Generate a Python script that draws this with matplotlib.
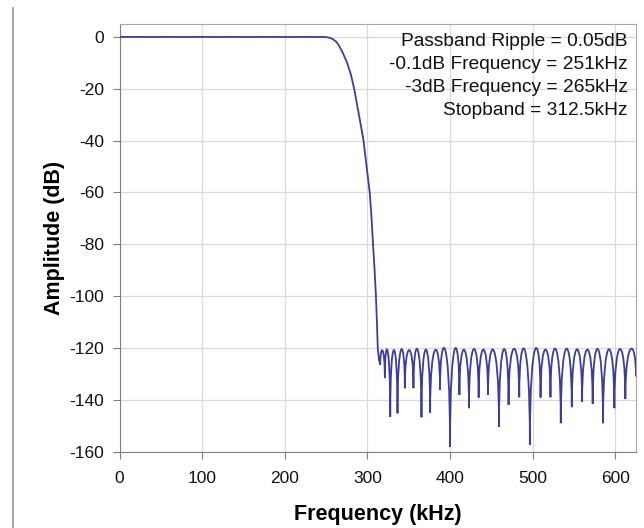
"""
Lowpass FIR filter magnitude response, redrawn from a datasheet plot
"""
import matplotlib
matplotlib.use('Agg')
import matplotlib.pyplot as plt
from matplotlib.path import Path
from matplotlib.patches import PathPatch
from matplotlib.lines import Line2D

# Passband (flat, tiny ripple)
passband_freq = [0, 20, 40, 60, 80, 100, 120, 140, 160, 180, 200, 220, 240, 248]
passband_db = [0.0, 0.02, -0.02, 0.02, -0.02, 0.02, -0.02, 0.02, -0.02, 0.02, -0.02, 0.02, -0.02, 0.0]

# Transition band
trans_freq = [251, 255, 258, 262, 265, 270, 275.5, 280, 284, 288, 292, 295.3,
              299, 302.8, 305, 306.8, 308.7, 310.3, 311.5, 312.5, 314.0]
trans_db = [-0.1, -0.4, -0.8, -1.8, -3.0, -6.0, -10.0, -14.5, -20.0, -27.0, -34.0, -40.0,
            -50.0, -60.0, -70.0, -80.0, -90.0, -100.0, -110.0, -120.0, -124.5]

# Stopband: null positions / depths, and the peak level of each lobe between them
null_freq = [315.5, 321.1, 327.6, 336.4, 345.3, 355.7, 365.4, 375.9, 387.9, 400.0,
             411.3, 422.9, 434.6, 445.9, 459.2, 470.8, 483.7, 496.6, 509.5, 521.5,
             534.0, 547.3, 559.8, 572.6, 585.1, 598.8, 612.1, 625.0]
null_db = [-126.5, -131.6, -146.5, -145.2, -135.5, -135.5, -146.7, -144.9, -136.1, -158.1,
           -138.1, -143.2, -139.1, -138.1, -150.3, -141.9, -139.0, -157.4, -139.1, -139.0,
           -149.0, -142.8, -140.8, -141.5, -149.0, -143.2, -139.7, -131.0]
lobe_peak_db = [-121.0, -121.0, -120.8, -120.6, -120.8, -120.5, -120.6, -120.8, -120.6,
                -120.5, -120.7, -120.4, -120.6, -120.8, -120.5, -120.3, -120.6, -120.4,
                -120.6, -120.4, -120.3, -120.5, -120.6, -120.4, -120.5, -120.4, -120.4]

x_ticks = [0, 100, 200, 300, 400, 500, 600]
y_ticks = [0, -20, -40, -60, -80, -100, -120, -140, -160]

notes = ["Passband Ripple = 0.05dB",
         "-0.1dB Frequency = 251kHz",
         "-3dB Frequency = 265kHz",
         "Stopband = 312.5kHz"]

LINE_COLOR = '#3d3d9c'
GRID_COLOR = '#d9d9d9'
plt.rcParams['font.family'] = ['Liberation Sans', 'DejaVu Sans']
plt.rcParams['axes.unicode_minus'] = False

fig = plt.figure(figsize=(6.44, 5.28), dpi=100)
ax = fig.add_axes([119.5 / 644, 1 - 451.7 / 528, 516.5 / 644, 427.7 / 528])

# build the response path: straight segments for pass/transition, arches for stopband lobes
verts = []
codes = []
for f, d in zip(passband_freq + trans_freq, passband_db + trans_db):
    verts.append((f, d))
    codes.append(Path.MOVETO if not codes else Path.LINETO)
verts.append((null_freq[0], null_db[0]))
codes.append(Path.LINETO)
for i, peak in enumerate(lobe_peak_db):
    a, da = null_freq[i], null_db[i]
    b, db = null_freq[i + 1], null_db[i + 1]
    c = (peak - 0.125 * (da + db)) / 0.75  # control height so the apex hits the peak
    verts += [(a, c), (b, c), (b, db)]
    codes += [Path.CURVE4] * 3

resp = PathPatch(Path(verts, codes), fill=False, edgecolor=LINE_COLOR, lw=1.3,
                 transform=ax.transData, zorder=3)
ax.add_patch(resp)

ax.set_xlim(0, 625)
ax.set_ylim(-160, 5)
ax.set_xticks(x_ticks)
ax.set_yticks(y_ticks)
ax.grid(True, color=GRID_COLOR, lw=0.9)
ax.set_axisbelow(True)

for side in ['top', 'right']:
    ax.spines[side].set_color('#a6a6a6')
for side in ['left', 'bottom']:
    ax.spines[side].set_color('#808080')
ax.tick_params(axis='both', direction='out', length=5, color='#808080',
               labelsize=12.5, labelcolor='#111111', pad=6)
ax.tick_params(axis='x', pad=9)

ax.set_xlabel('Frequency (kHz)', fontsize=15.5, fontweight='bold', va='center')
ax.set_ylabel('Amplitude (dB)', fontsize=15.5, fontweight='bold', va='center')
ax.xaxis.set_label_coords(0.5, -0.148)
ax.yaxis.set_label_coords(-0.125, 0.5)

ax.text(0.984, 0.978, "\n".join(notes), transform=ax.transAxes, ha='right', va='top',
        fontsize=13.8, linespacing=1.45, color='#111111')

# thin border line on the left of the picture
fig.add_artist(Line2D([13 / 644, 13 / 644], [0, 1 - 8 / 528], color='#9a9a9a', lw=1.2))

plt.savefig('out.png', dpi=100)
plt.close()
